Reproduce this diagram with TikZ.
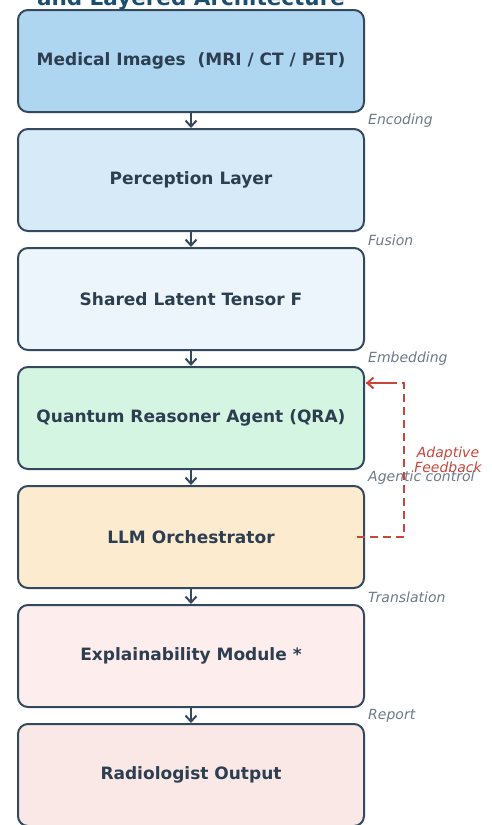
\documentclass[tikz,border=0pt]{standalone}
\usepackage{fontspec}
\setmainfont{DejaVu Sans}
\usetikzlibrary{arrows.meta}
\definecolor{edgec}{HTML}{34495E}
\definecolor{txtc}{HTML}{2C3E50}
\definecolor{titlec}{HTML}{1B4F72}
\definecolor{labc}{HTML}{6C7A89}
\definecolor{redc}{HTML}{C9463A}
\definecolor{fA}{HTML}{AED6F1}
\definecolor{fB}{HTML}{D6EAF8}
\definecolor{fC}{HTML}{EBF5FB}
\definecolor{fD}{HTML}{D5F5E3}
\definecolor{fE}{HTML}{FDEBD0}
\definecolor{fF}{HTML}{FDEDEC}
\definecolor{fG}{HTML}{F9E8E6}
\tikzset{
  layer/.style={draw=edgec, line width=2pt, rounded corners=10pt, minimum width=346pt, minimum height=102pt, text=txtc, font=\bfseries\fontsize{17}{20}\selectfont, inner sep=0pt},
  flow/.style={draw=edgec, line width=2pt, -{Straight Barb[length=6pt,width=11pt,line width=2pt]}},
  steplab/.style={text=labc, font=\itshape\fontsize{14}{16}\selectfont, anchor=west, inner sep=0pt},
  fb/.style={draw=redc, line width=2pt, dash pattern=on 8pt off 5pt},
}
\begin{document}
\begin{tikzpicture}[x=1pt,y=-1pt]
\useasboundingbox (0,0) rectangle (491,825);
\node[text=titlec, font=\bfseries\fontsize{21.5}{24}\selectfont, anchor=base, inner sep=0pt] (title) at (191,5) {and Layered Architecture};
\node[layer, fill=fA] (b1) at (191,61) {\raisebox{-1.5pt}{Medical Images\ \ (MRI / CT / PET)}};
\node[layer, fill=fB] (b2) at (191,180) {\raisebox{-1.5pt}{Perception Layer}};
\node[layer, fill=fC] (b3) at (191,299) {\raisebox{-1.5pt}{Shared Latent Tensor F}};
\node[layer, fill=fD] (b4) at (191,418) {\raisebox{-1.5pt}{Quantum Reasoner Agent (QRA)}};
\node[layer, fill=fE] (b5) at (191,537) {\raisebox{-1.5pt}{LLM Orchestrator}};
\node[layer, fill=fF] (b6) at (191,656) {\raisebox{-1.5pt}{Explainability Module *}};
\node[layer, fill=fG] (b7) at (191,775) {\raisebox{-1.5pt}{Radiologist Output}};
\foreach \a/\b in {b1/b2,b2/b3,b3/b4,b4/b5,b5/b6,b6/b7}{
  \draw[flow] (\a.south) -- (\b.north);
}
\node[steplab] (l1) at (368,121) {Encoding};
\node[steplab] (l2) at (368,240) {Fusion};
\node[steplab] (l3) at (368,359) {Embedding};
\node[steplab] (l4) at (368,478) {Agentic control};
\node[steplab] (l5) at (368,597) {Translation};
\node[steplab] (l6) at (368,716) {Report};
\coordinate (fbs) at ([xshift=-8pt]b5.east);
\coordinate (fbc1) at (404,537);
\coordinate (fbc2) at (404,383);
\coordinate (fbe) at (366,383);
\draw[fb] (fbs) -- (fbc1) -- (fbc2) -- (fbe);
\draw[draw=redc, line width=2pt, -{Straight Barb[length=6pt,width=11pt,line width=2pt]}] (390,383) -- (fbe);
\node[text=redc, font=\itshape\fontsize{14}{15}\selectfont, align=center, inner sep=0pt] (fbl) at (448,460) {Adaptive\\Feedback};
\end{tikzpicture}
\end{document}
